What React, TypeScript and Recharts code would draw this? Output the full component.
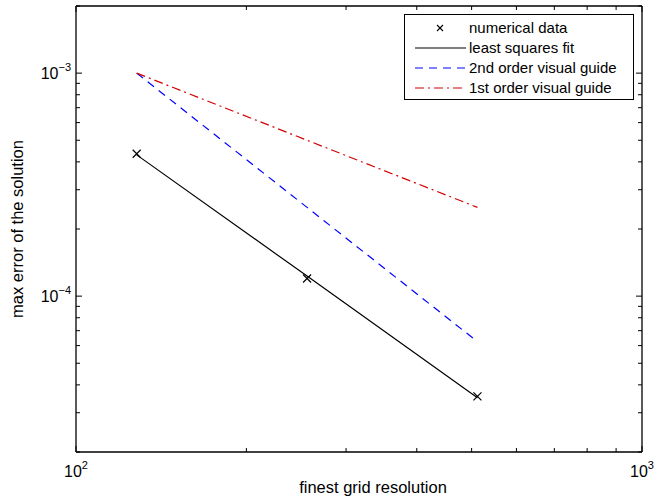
import React from "react";
import { LineChart, Line, XAxis, YAxis, Legend, Label } from "recharts";

// finest grid resolution (x) and errors
const gridSizes = [128, 256, 512];
const numericalError = [4.35e-4, 1.2e-4, 3.55e-5];
const leastSquaresFit = [4.3e-4, 1.23e-4, 3.5e-5];
const secondOrderGuide = [1e-3, 2.5e-4, 6.25e-5];
const firstOrderGuide = [1e-3, 5e-4, 2.5e-4];

const xTicks = [100, 200, 300, 400, 500, 600, 700, 800, 900, 1000];
const yTicks = [
  2e-5, 3e-5, 4e-5, 5e-5, 6e-5, 7e-5, 8e-5, 9e-5,
  1e-4, 2e-4, 3e-4, 4e-4, 5e-4, 6e-4, 7e-4, 8e-4, 9e-4,
  1e-3, 2e-3,
];

const legendItems = [
  { key: "numerical", name: "numerical data" },
  { key: "fit", name: "least squares fit" },
  { key: "second", name: "2nd order visual guide" },
  { key: "first", name: "1st order visual guide" },
];

const data = gridSizes.map((x, i) => ({
  x,
  numerical: numericalError[i],
  fit: leastSquaresFit[i],
  second: secondOrderGuide[i],
  first: firstOrderGuide[i],
}));

const FONT = '"Liberation Sans", Arial, Helvetica, sans-serif';
const BLUE = "#0000ff";
const RED = "#d40000";

const exponentOf = (v: number) => {
  const l = Math.log10(v);
  const r = Math.round(l);
  return Math.abs(l - r) < 1e-6 ? r : null;
};

const expText = (e: number) => (e < 0 ? "\u2212" + -e : String(e));

const Pow = ({ x, y, e, anchor }: any) => (
  <text x={x} y={y} textAnchor={anchor} fontFamily={FONT} fontSize={16} fill="#000">
    <tspan>10</tspan>
    <tspan dy={-8} fontSize={11}>{expText(e)}</tspan>
  </text>
);

const BottomTick = ({ x, y, payload }: any) => {
  const e = exponentOf(payload.value);
  return (
    <g>
      <line x1={x} y1={y} x2={x} y2={y - (e !== null ? 6 : 4)} stroke="#000" />
      {e !== null && <Pow x={x} y={y + 25} e={e} anchor="middle" />}
    </g>
  );
};

const TopTick = ({ x, y, payload }: any) => {
  const e = exponentOf(payload.value);
  return <line x1={x} y1={y} x2={x} y2={y + (e !== null ? 6 : 4)} stroke="#000" />;
};

const LeftTick = ({ x, y, payload }: any) => {
  const e = exponentOf(payload.value);
  return (
    <g>
      <line x1={x} y1={y} x2={x + (e !== null ? 6 : 4)} y2={y} stroke="#000" />
      {e !== null && <Pow x={x - 5} y={y + 6} e={e} anchor="end" />}
    </g>
  );
};

const RightTick = ({ x, y, payload }: any) => {
  const e = exponentOf(payload.value);
  return <line x1={x} y1={y} x2={x - (e !== null ? 6 : 4)} y2={y} stroke="#000" />;
};

const XMark = (props: any) => {
  const { cx, cy, index } = props;
  if (cx == null || cy == null) return <g key={index} />;
  const s = 4;
  return (
    <path
      key={index}
      d={`M${cx - s},${cy - s}L${cx + s},${cy + s}M${cx - s},${cy + s}L${cx + s},${cy - s}`}
      stroke="#000"
      strokeWidth={1.2}
      fill="none"
    />
  );
};

const YTitle = ({ viewBox }: any) => {
  const x = viewBox.x - 52;
  const y = viewBox.y + viewBox.height / 2;
  return (
    <text
      x={x}
      y={y}
      transform={`rotate(-90 ${x} ${y})`}
      textAnchor="middle"
      fontFamily={FONT}
      fontSize={16.5}
      fill="#000"
    >
      max error of the solution
    </text>
  );
};

const XTitle = ({ viewBox }: any) => (
  <text
    x={viewBox.x + viewBox.width / 2 + 14}
    y={viewBox.y + 41}
    textAnchor="middle"
    fontFamily={FONT}
    fontSize={16.5}
    fill="#000"
  >
    finest grid resolution
  </text>
);

const LegendSample = ({ k }: { k: string }) => {
  if (k === "numerical") {
    return (
      <path d="M32,7L38,13M32,13L38,7" stroke="#000" strokeWidth={1.1} fill="none" />
    );
  }
  if (k === "fit") return <line x1={10} y1={10} x2={61} y2={10} stroke="#000" strokeWidth={1.2} />;
  if (k === "second")
    return <line x1={10} y1={10} x2={61} y2={10} stroke={BLUE} strokeWidth={1.2} strokeDasharray="8 6" />;
  return <line x1={10} y1={10} x2={61} y2={10} stroke={RED} strokeWidth={1.2} strokeDasharray="9 4 2 4" />;
};

const renderLegend = () => (
  <div
    style={{
      width: 230,
      height: 86,
      boxSizing: "border-box",
      border: "1px solid #000",
      background: "#fff",
      paddingTop: 3,
      fontFamily: FONT,
      fontSize: 15,
      color: "#000",
    }}
  >
    {legendItems.map((it) => (
      <div key={it.key} style={{ display: "flex", alignItems: "center", height: 20 }}>
        <svg width={62} height={20} style={{ display: "block" }}>
          <LegendSample k={it.key} />
        </svg>
        <span style={{ marginLeft: 2, lineHeight: "20px" }}>{it.name}</span>
      </div>
    ))}
  </div>
);

const axisLine = { stroke: "#000", strokeWidth: 1.3 };

export default function App() {
  return (
    <div style={{ position: "absolute", left: 0, top: 0, width: 654, height: 502, background: "#fff" }}>
      <LineChart width={654} height={502} data={data} margin={{ top: 5, right: 11, bottom: 49, left: 75 }}>
        <XAxis
          dataKey="x"
          type="number"
          scale="log"
          domain={[100, 1000]}
          allowDataOverflow
          ticks={xTicks}
          interval={0}
          height={1}
          tickSize={0}
          tickMargin={0}
          tickLine={false}
          tick={BottomTick}
          axisLine={axisLine}
        >
          <Label content={XTitle} />
        </XAxis>
        <XAxis
          xAxisId="top"
          orientation="top"
          dataKey="x"
          type="number"
          scale="log"
          domain={[100, 1000]}
          allowDataOverflow
          ticks={xTicks}
          interval={0}
          height={1}
          tickSize={0}
          tickMargin={0}
          tickLine={false}
          tick={TopTick}
          axisLine={axisLine}
        />
        <YAxis
          type="number"
          scale="log"
          domain={[2e-5, 2e-3]}
          allowDataOverflow
          ticks={yTicks}
          interval={0}
          width={1}
          tickSize={0}
          tickMargin={0}
          tickLine={false}
          tick={LeftTick}
          axisLine={axisLine}
        >
          <Label content={YTitle} />
        </YAxis>
        <YAxis
          yAxisId="right"
          orientation="right"
          type="number"
          scale="log"
          domain={[2e-5, 2e-3]}
          allowDataOverflow
          ticks={yTicks}
          interval={0}
          width={1}
          tickSize={0}
          tickMargin={0}
          tickLine={false}
          tick={RightTick}
          axisLine={axisLine}
        />
        <Line dataKey="fit" stroke="#000" strokeWidth={1.2} dot={false} activeDot={false} isAnimationActive={false} />
        <Line
          dataKey="second"
          stroke={BLUE}
          strokeWidth={1.2}
          strokeDasharray="8 6"
          dot={false}
          activeDot={false}
          isAnimationActive={false}
        />
        <Line
          dataKey="first"
          stroke={RED}
          strokeWidth={1.2}
          strokeDasharray="9 4 2 4"
          dot={false}
          activeDot={false}
          isAnimationActive={false}
        />
        <Line dataKey="numerical" stroke="none" dot={XMark} activeDot={false} isAnimationActive={false} />
        <Legend
          layout="vertical"
          align="center"
          verticalAlign="middle"
          content={renderLegend}
          wrapperStyle={{ position: "absolute", left: 404, top: 14, width: 230, height: 86 }}
        />
      </LineChart>
    </div>
  );
}
